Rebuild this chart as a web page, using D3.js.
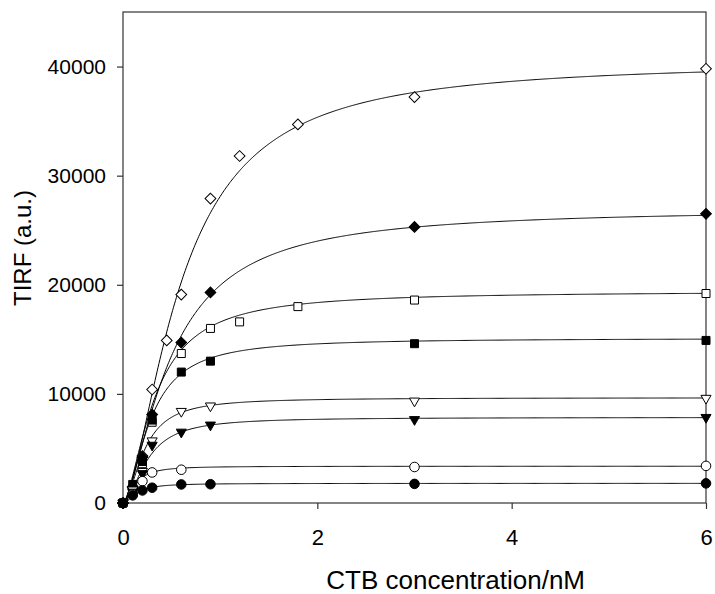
<!DOCTYPE html>
<html>
<head>
<meta charset="utf-8">
<script src="https://cdn.jsdelivr.net/npm/d3@7"></script>
<style>
  body { margin: 0; background: #fff; }
  svg text { font-family: "Liberation Sans", Arial, sans-serif; fill: #000; }
</style>
</head>
<body>
<svg id="chart" width="715" height="594"></svg>
<script>
// data (x in nM, y in a.u.)
let xLong = [0, 0.1, 0.2, 0.3, 0.45, 0.6, 0.9, 1.2, 1.8, 3, 6]
let xSquare = [0, 0.1, 0.2, 0.3, 0.6, 0.9, 1.2, 1.8, 3, 6]
let xShort = [0, 0.1, 0.2, 0.3, 0.6, 0.9, 3, 6]
let xCircle = [0, 0.1, 0.2, 0.3, 0.6, 3, 6]

let openDiamond = [0, 1400, 4300, 10400, 14900, 19100, 27900, 31800, 34700, 37200, 39800]
let filledDiamond = [0, 1500, 4200, 8100, 14700, 19300, 25300, 26500]
let openSquare = [0, 1300, 3600, 7400, 13700, 16000, 16600, 18000, 18600, 19200]
let filledSquare = [0, 1700, 3800, 7600, 12000, 13000, 14600, 14900]
let openTriangle = [0, 1200, 2900, 5700, 8400, 8900, 9350, 9600]
let filledTriangle = [0, 1000, 2700, 5300, 6500, 7150, 7650, 7850]
let openCircle = [0, 800, 2000, 2800, 3050, 3300, 3400]
let filledCircle = [0, 700, 1150, 1400, 1700, 1720, 1750, 1800]

// fitted saturation curves: Bmax, K (nM), Hill n
let fitBmax = [40500, 27000, 19400, 15100, 9650, 7850, 3370, 1800]
let fitK = [0.6, 0.5, 0.33, 0.28, 0.22, 0.25, 0.13, 0.14]
let fitN = [1.6, 1.5, 1.6, 1.7, 1.8, 1.8, 1.9, 1.8]

let xTicks = [0, 2, 4, 6]
let yTicks = [0, 10000, 20000, 30000, 40000]

let series = [
  {x: xLong, y: openDiamond, shape: "diamond", fill: "#fff"},
  {x: xShort, y: filledDiamond, shape: "diamond", fill: "#000"},
  {x: xSquare, y: openSquare, shape: "square", fill: "#fff"},
  {x: xShort, y: filledSquare, shape: "square", fill: "#000"},
  {x: xShort, y: openTriangle, shape: "triangle", fill: "#fff"},
  {x: xShort, y: filledTriangle, shape: "triangle", fill: "#000"},
  {x: xCircle, y: openCircle, shape: "circle", fill: "#fff"},
  {x: xShort, y: filledCircle, shape: "circle", fill: "#000"}
]

let plotLeft = 123, plotRight = 706, plotTop = 12, plotBottom = 503

let svg = d3.select("#chart")

let x = d3.scaleLinear().domain([0, 6]).range([plotLeft, plotRight])
let y = d3.scaleLinear().domain([0, 45000]).range([plotBottom, plotTop])

// frame
svg.append("rect")
  .attr("x", plotLeft).attr("y", plotTop)
  .attr("width", plotRight - plotLeft).attr("height", plotBottom - plotTop)
  .attr("fill", "none").attr("stroke", "#333").attr("stroke-width", 1.2)

let xAxis = svg.append("g")
  .attr("transform", "translate(0," + plotBottom + ")")
  .call(d3.axisBottom(x).tickValues(xTicks).tickSize(6).tickPadding(20).tickFormat(d3.format("d")))

let yAxis = svg.append("g")
  .attr("transform", "translate(" + plotLeft + ",0)")
  .call(d3.axisLeft(y).tickValues(yTicks).tickSize(6).tickPadding(11).tickFormat(d3.format("d")))

for (let g of [xAxis, yAxis]) {
  g.select(".domain").remove()
  g.selectAll(".tick line").attr("stroke", "#333").attr("stroke-width", 1.2)
  g.selectAll(".tick text").attr("font-family", "Liberation Sans, Arial, sans-serif")
}
xAxis.selectAll(".tick text").attr("font-size", "22px")
yAxis.selectAll(".tick text").attr("font-size", "21px")

// fit curves
let line = d3.line()
  .x(function(d) { return x(d[0]) })
  .y(function(d) { return y(d[1]) })

let grid = d3.range(0, 6.001, 0.01)

series.forEach(function(s, i) {
  let pts = grid.map(function(c) {
    let p = Math.pow(c, fitN[i])
    return [c, fitBmax[i] * p / (Math.pow(fitK[i], fitN[i]) + p)]
  })
  svg.append("path")
    .attr("d", line(pts))
    .attr("fill", "none")
    .attr("stroke", "#000")
    .attr("stroke-width", 1)
})

// markers
let symbols = {
  diamond: {type: d3.symbolSquare, size: 58, rotate: 45},
  square: {type: d3.symbolSquare, size: 64, rotate: 0},
  triangle: {type: d3.symbolTriangle, size: 44, rotate: 180},
  circle: {type: d3.symbolCircle, size: 72, rotate: 0}
}

series.forEach(function(s) {
  let sym = symbols[s.shape]
  svg.append("g")
    .selectAll("path")
    .data(s.y.map(function(v, j) { return [s.x[j], v] }))
    .enter()
    .append("path")
    .attr("d", d3.symbol().type(sym.type).size(sym.size))
    .attr("transform", function(d) {
      return "translate(" + x(d[0]) + "," + y(d[1]) + ") rotate(" + sym.rotate + ")"
    })
    .attr("fill", s.fill)
    .attr("stroke", "#000")
    .attr("stroke-width", 1)
})

// axis titles
svg.append("text")
  .text("CTB concentration/nM")
  .attr("x", 585)
  .attr("y", 589)
  .attr("text-anchor", "end")
  .attr("font-size", "26px")

svg.append("text")
  .text("TIRF (a.u.)")
  .attr("transform", "translate(31,248) rotate(-90)")
  .attr("text-anchor", "middle")
  .attr("font-size", "24px")
</script>
</body>
</html>
